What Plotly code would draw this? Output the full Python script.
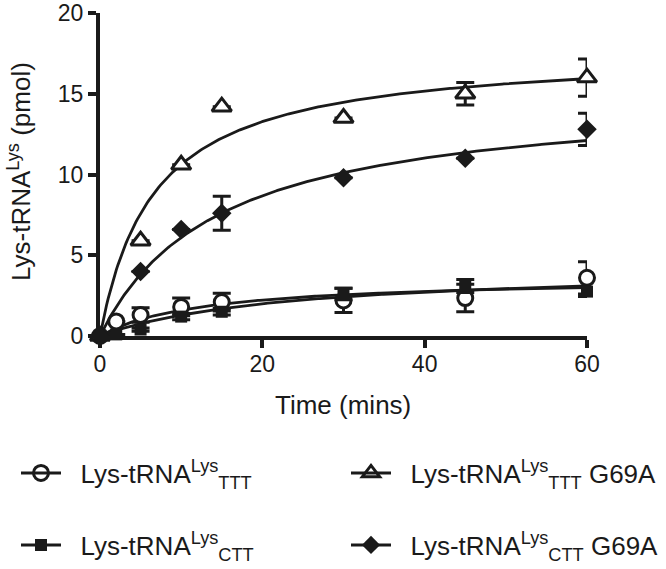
import numpy as np
import plotly.graph_objects as go

# ---- data ----
t_ttt = [0, 2, 5, 10, 15, 30, 45, 60]
y_ttt = [0, 0.9, 1.3, 1.8, 2.1, 2.2, 2.35, 3.6]
e_ttt = [0, 0, 0.45, 0.55, 0.55, 0.75, 0.85, 1.0]

t_ctt = [0, 2, 5, 10, 15, 30, 45, 60]
y_ctt = [0, 0.1, 0.4, 1.2, 1.5, 2.6, 3.1, 2.75]
e_ctt = [0, 0, 0.1, 0.2, 0.2, 0.35, 0.4, 0.3]

t_ttt_g = [0, 5, 10, 15, 30, 45, 60]
y_ttt_g = [0, 5.9, 10.6, 14.2, 13.5, 15.0, 16.0]
e_ttt_g = [0, 0, 0, 0, 0, 0.7, 1.15]

t_ctt_g = [0, 5, 10, 15, 30, 45, 60]
y_ctt_g = [0, 4.0, 6.6, 7.6, 9.8, 11.0, 12.8]
e_ctt_g = [0, 0, 0, 1.05, 0, 0, 1.0]

x_ticks = [0, 20, 40, 60]
y_ticks = [0, 5, 10, 15, 20]

x_title = "Time (mins)"
y_title = "Lys-tRNA<sup>Lys</sup> (pmol)"

# one-site hyperbolic fit parameters (Bmax, K) for the fitted curves
fit_bmax = {"ttt": 3.64, "ctt": 4.29, "ttt_g": 17.7, "ctt_g": 15.07}
fit_k = {"ttt": 12.7, "ctt": 23.0, "ttt_g": 6.67, "ctt_g": 14.7}

names = {
    "ttt": "Lys-tRNA<sup>Lys</sup><sub>TTT</sub>",
    "ttt_g": "Lys-tRNA<sup>Lys</sup><sub>TTT</sub> G69A",
    "ctt": "Lys-tRNA<sup>Lys</sup><sub>CTT</sub>",
    "ctt_g": "Lys-tRNA<sup>Lys</sup><sub>CTT</sub> G69A",
}

FONT = "Arial, 'Liberation Sans', sans-serif"
BLACK = "#1a1a1a"

fig = go.Figure()

t_fit = np.linspace(0, 60, 300)
for key in ["ttt", "ctt", "ttt_g", "ctt_g"]:
    yfit = fit_bmax[key] * t_fit / (fit_k[key] + t_fit)
    fig.add_trace(go.Scatter(x=t_fit, y=yfit, mode="lines",
                             line=dict(color=BLACK, width=2.8),
                             showlegend=False, hoverinfo="skip"))

# (key, t, y, err, plot marker, legend marker, legend id)
series = [
    ("ttt", t_ttt, y_ttt, e_ttt,
     dict(symbol="circle", size=15, color="white", line=dict(width=3, color=BLACK)),
     dict(symbol="circle-open", size=15, color=BLACK, line=dict(width=3, color=BLACK)), "legend"),
    ("ttt_g", t_ttt_g, y_ttt_g, e_ttt_g,
     dict(symbol="triangle-up", size=17, color="white", line=dict(width=3, color=BLACK)),
     dict(symbol="triangle-up-open", size=15, color=BLACK, line=dict(width=3, color=BLACK)), "legend2"),
    ("ctt", t_ctt, y_ctt, e_ctt,
     dict(symbol="square", size=12, color=BLACK, line=dict(width=0)),
     dict(symbol="square", size=12, color=BLACK, line=dict(width=0)), "legend3"),
    ("ctt_g", t_ctt_g, y_ctt_g, e_ctt_g,
     dict(symbol="diamond", size=15, color=BLACK, line=dict(width=0)),
     dict(symbol="diamond", size=14, color=BLACK, line=dict(width=0)), "legend4"),
]

for key, t, y, e, mk, lmk, lg in series:
    fig.add_trace(go.Scatter(
        x=t, y=y, mode="markers", marker=mk,
        error_y=dict(type="data", array=e, visible=True, color=BLACK, thickness=3, width=9),
        showlegend=False, cliponaxis=False))

for key, t, y, e, mk, lmk, lg in series:
    fig.add_trace(go.Scatter(
        x=[None], y=[None], mode="lines+markers",
        name="&nbsp;&nbsp;" + names[key],
        marker=lmk, line=dict(color=BLACK, width=3), legend=lg))

W, H = 666, 569
L, R, T, B = 100, 79, 13, 233
PW, PH = W - L - R, H - T - B


def leg(px, py):
    return dict(x=px / W, y=1 - py / H, xref="container", yref="container",
                xanchor="left", yanchor="middle", orientation="v",
                font=dict(family=FONT, size=26, color=BLACK),
                bgcolor="rgba(0,0,0,0)", itemwidth=40)


fig.update_layout(
    width=W, height=H,
    margin=dict(l=L, r=R, t=T, b=B, autoexpand=False),
    plot_bgcolor="white", paper_bgcolor="white",
    font=dict(family=FONT, size=23, color=BLACK),
    legend=leg(16, 473),
    legend2=leg(346, 473),
    legend3=leg(16, 545),
    legend4=leg(346, 545),
    xaxis=dict(range=[0, 60], tickvals=x_ticks, showgrid=False, zeroline=False,
               showline=True, linecolor=BLACK, linewidth=4, ticks="outside",
               ticklen=8, tickwidth=4, tickcolor=BLACK, automargin=False,
               ticklabelstandoff=-4,
               tickfont=dict(size=23, family=FONT, color=BLACK)),
    yaxis=dict(range=[0, 20], tickvals=y_ticks, showgrid=False, zeroline=False,
               showline=True, linecolor=BLACK, linewidth=4, ticks="outside",
               ticklen=8, tickwidth=4, tickcolor=BLACK, automargin=False,
               tickfont=dict(size=23, family=FONT, color=BLACK)),
    annotations=[
        dict(text=x_title, xref="paper", yref="paper",
             x=(343 - L) / PW, y=(H - B - 405) / PH,
             xanchor="center", yanchor="middle", showarrow=False,
             font=dict(size=26, family=FONT, color=BLACK)),
        dict(text=y_title, xref="paper", yref="paper",
             x=(19 - L) / PW, y=(H - B - 172) / PH, textangle=-90,
             xanchor="center", yanchor="middle", showarrow=False,
             font=dict(size=26, family=FONT, color=BLACK)),
    ],
)

fig.write_html("out.html", config={"displayModeBar": False},
               post_script="document.body.style.margin='0';")
